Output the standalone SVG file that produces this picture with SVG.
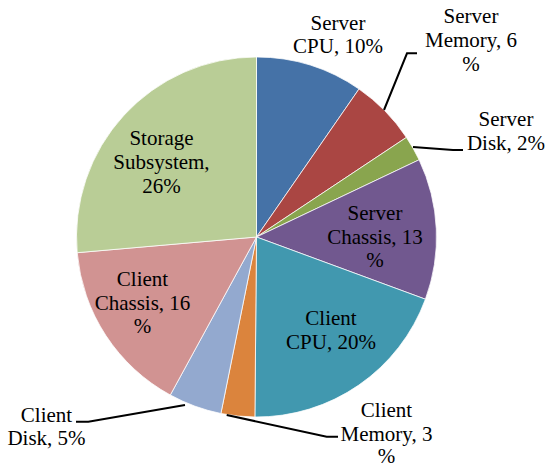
<svg xmlns="http://www.w3.org/2000/svg" width="547" height="467" viewBox="0 0 547 467">
<style>
.s{stroke:#fff;stroke-width:0.75;stroke-linejoin:round}
.t{font-family:"Liberation Serif",Tinos,"Times New Roman","DejaVu Serif",serif;font-size:21px;fill:#000;text-anchor:middle}
.c{fill:none;stroke:#000;stroke-width:2}
</style>
<rect width="547" height="467" fill="#fff"/>
<g id="server-cpu">
<path class="s" fill="#4572A7" d="M256.5,237 L256.5,57 A180,180 0 0 1 359,89 Z"/>
<text class="t" x="338" y="30">Server</text>
<text class="t" x="338" y="53">CPU, 10%</text>
</g>
<g id="server-memory">
<path class="s" fill="#AA4643" d="M256.5,237 L359,89 A180,180 0 0 1 406.4,137.4 Z"/>
<text class="t" x="471" y="23">Server</text>
<text class="t" x="471" y="47">Memory, 6</text>
<text class="t" x="471" y="71">%</text>
</g>
<g id="server-disk">
<path class="s" fill="#89A54E" d="M256.5,237 L406.4,137.4 A180,180 0 0 1 419.1,159.8 Z"/>
<text class="t" x="506" y="126">Server</text>
<text class="t" x="506" y="150">Disk, 2%</text>
</g>
<g id="server-chassis">
<path class="s" fill="#71588F" d="M256.5,237 L419.1,159.8 A180,180 0 0 1 425.4,299.2 Z"/>
<text class="t" x="375" y="220">Server</text>
<text class="t" x="375" y="243.5">Chassis, 13</text>
<text class="t" x="375" y="267">%</text>
</g>
<g id="client-cpu">
<path class="s" fill="#4198AF" d="M256.5,237 L425.4,299.2 A180,180 0 0 1 254.9,417 Z"/>
<text class="t" x="331" y="325">Client</text>
<text class="t" x="331" y="348.5">CPU, 20%</text>
</g>
<g id="client-memory">
<path class="s" fill="#DB843D" d="M256.5,237 L254.9,417 A180,180 0 0 1 220.9,413.5 Z"/>
<text class="t" x="386.5" y="416.5">Client</text>
<text class="t" x="386.5" y="441">Memory, 3</text>
<text class="t" x="386.5" y="463">%</text>
</g>
<g id="client-disk">
<path class="s" fill="#93A9CF" d="M256.5,237 L220.9,413.5 A180,180 0 0 1 170.3,395 Z"/>
<text class="t" x="46.5" y="421.5">Client</text>
<text class="t" x="46.5" y="445">Disk, 5%</text>
</g>
<g id="client-chassis">
<path class="s" fill="#D19392" d="M256.5,237 L170.3,395 A180,180 0 0 1 77.2,252.7 Z"/>
<text class="t" x="142.5" y="285.5">Client</text>
<text class="t" x="142.5" y="309.5">Chassis, 16</text>
<text class="t" x="142.5" y="333">%</text>
</g>
<g id="storage-subsystem">
<path class="s" fill="#B9CD96" d="M256.5,237 L77.2,252.7 A180,180 0 0 1 256.5,57 Z"/>
<text class="t" x="161.5" y="145">Storage</text>
<text class="t" x="161.5" y="169">Subsystem,</text>
<text class="t" x="161.5" y="192.5">26%</text>
</g>
<g id="connectors">
<polyline class="c" points="384,110 407,53.3 417,53.3"/>
<polyline class="c" points="413,147 453,150 463,150"/>
<polyline class="c" points="226.7,415 326.7,436.7 338,436.7"/>
<polyline class="c" points="185,405 88.3,421.7 76,421.7"/>
</g>
</svg>
